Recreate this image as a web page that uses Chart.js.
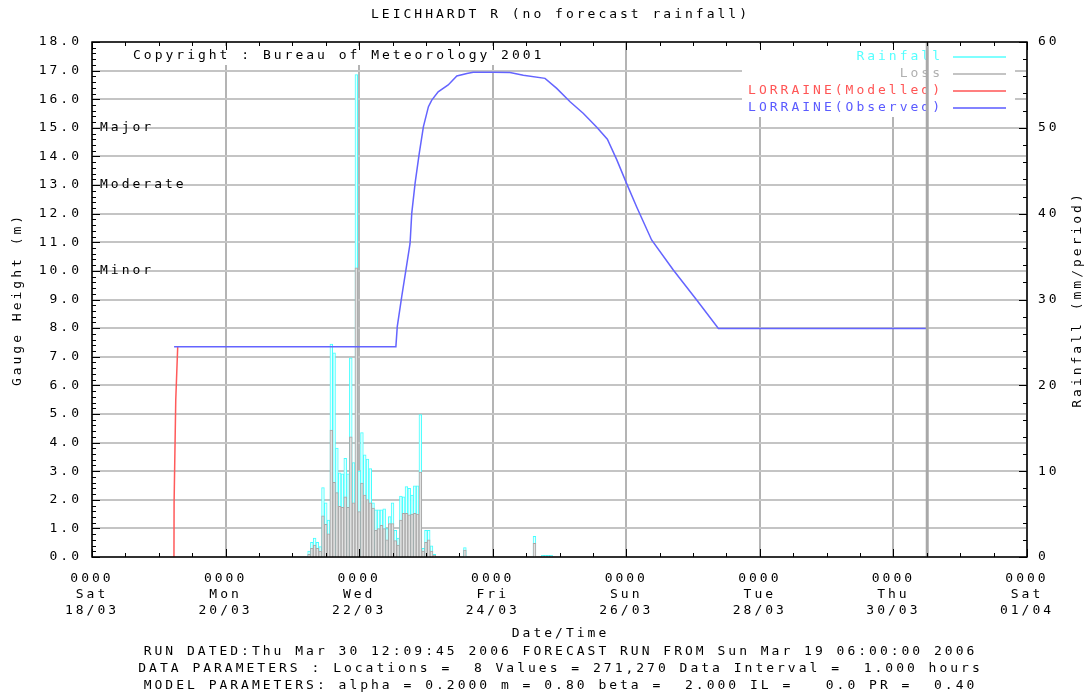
<!DOCTYPE html>
<html>
<head>
<meta charset="utf-8">
<script src="https://cdn.jsdelivr.net/npm/chart.js@4.4.0/dist/chart.umd.min.js"></script>
<style>
  body { margin: 0; background: #fff; }
  canvas { display: block; }
</style>
</head>
<body>
<canvas id="gauge" width="1086" height="697"></canvas>
<script>
// hours counted from Sat 18/03 0000
var dayNames = ['Sat', 'Mon', 'Wed', 'Fri', 'Sun', 'Tue', 'Thu', 'Sat'];
var dayDates = ['18/03', '20/03', '22/03', '24/03', '26/03', '28/03', '30/03', '01/04'];

// hourly rainfall and loss (mm/period), first bar at hour 78
var rainStart = 78;
var rainfall = [0.7, 1.7, 2.2, 1.7, 1.2, 8.1, 6.3, 4.3, 24.8, 23.8, 12.7, 9.8, 9.7, 11.5, 9.7, 23.2,
  11.0, 56.2, 10.0, 14.5, 11.9, 11.4, 10.3, 6.3, 5.5, 5.5, 5.5, 5.6, 3.3, 4.7, 6.3, 3.1,
  2.2, 7.1, 7.0, 8.2, 8.0, 7.2, 8.3, 8.3, 16.6, 1.0, 3.1, 3.1, 1.3, 0.3];
var loss = [0.3, 1.0, 1.4, 1.0, 0.7, 4.8, 3.8, 2.7, 14.8, 8.7, 7.5, 5.9, 5.8, 7.0, 5.8, 14.0,
  6.3, 33.7, 5.3, 8.6, 7.2, 6.7, 6.3, 5.7, 3.1, 3.3, 3.7, 3.3, 2.0, 3.9, 3.9, 1.9,
  1.4, 4.3, 5.1, 5.1, 4.9, 5.0, 5.1, 5.0, 9.9, 0.7, 1.7, 2.0, 0.7, 0.2];
// a few isolated later bars
var lateHours = [134, 159, 162, 163, 164, 165];
var lateRain = [1.1, 2.4, 0.2, 0.2, 0.2, 0.2];
var lateLoss = [0.8, 1.6, 0.1, 0.1, 0.1, 0.1];

// gauge heights (m)
var modHours = [29.45, 29.5, 30.1, 30.8];
var modLevel = [0, 1.9, 5.5, 7.35];
var obsHours = [29.5, 109.2, 109.7, 111.3, 112.8, 114.3, 114.9, 116.1, 117.6, 119.1, 120.9, 122.1,
  124.4, 128.0, 131.1, 134.7, 137.0, 144.2, 150.2, 155.0, 162.8, 167.0, 171.8, 176.6, 181.4,
  185.2, 188.6, 192.1, 195.7, 201.1, 208.9, 217.3, 225.1, 300.2];
var obsLevel = [7.35, 7.35, 8.05, 9.1, 10.03, 10.96, 12.01, 13.06, 14.11, 15.04, 15.74, 15.97,
  16.26, 16.5, 16.81, 16.9, 16.94, 16.94, 16.93, 16.84, 16.73, 16.38, 15.91, 15.5, 15.02,
  14.6, 13.88, 13.06, 12.24, 11.08, 10.03, 8.98, 7.99, 7.99];

var floodNames = ['Major', 'Moderate', 'Minor'];
var floodLevels = [15.0, 13.0, 10.0];
var nowHour = 300.15;

var footLines = [
  'Date/Time',
  'RUN DATED:Thu Mar 30 12:09:45 2006 FORECAST RUN FROM Sun Mar 19 06:00:00 2006',
  'DATA PARAMETERS : Locations =  8 Values = 271,270 Data Interval =  1.000 hours',
  'MODEL PARAMETERS: alpha = 0.2000 m = 0.80 beta =  2.000 IL =   0.0 PR =  0.40'
];

var FONT = '13px "DejaVu Sans Mono"';
var GAP = 3;

function hourly(vals) {
  var out = vals.map(function (v, i) { return { x: rainStart + i, y: v } });
  return out;
}
function pairs(xs, ys) {
  return xs.map(function (v, i) { return { x: v, y: ys[i] } });
}

var rainData = hourly(rainfall).concat(pairs(lateHours, lateRain));
var lossData = hourly(loss).concat(pairs(lateHours, lateLoss));

var legendItems = [
  { text: 'Rainfall', color: '#55ffff' },
  { text: 'Loss', color: '#b0b0b0' },
  { text: 'LORRAINE(Modelled)', color: '#ff5555' },
  { text: 'LORRAINE(Observed)', color: '#5a5aff' }
];

var spacing = {
  id: 'spacing',
  beforeDraw: function (chart) {
    var ctx = chart.ctx;
    ctx.letterSpacing = GAP + 'px';
    ctx.fillStyle = '#fff';
    ctx.fillRect(0, 0, chart.width, chart.height);
  }
};

// draw spaced text so that the visible glyphs end at xr
function rightText(ctx, t, xr, y) {
  var w = ctx.measureText(t).width - GAP;
  ctx.textAlign = 'left';
  ctx.fillText(t, xr - w, y);
}

var extras = {
  id: 'extras',
  afterDatasetsDraw: function (chart) {
    var ctx = chart.ctx, a = chart.chartArea;
    var xs = chart.scales.x, ys = chart.scales.y, ys1 = chart.scales.y1;
    ctx.save();
    ctx.letterSpacing = GAP + 'px';
    ctx.font = FONT;
    ctx.textBaseline = 'middle';

    // copyright and legend panels
    ctx.fillStyle = '#fff';
    ctx.fillRect(a.left + 36, a.top + 4, 424, 19);
    ctx.fillRect(a.right - 285, a.top + 2, 273, 73);
    ctx.fillStyle = '#000';
    ctx.textAlign = 'left';
    ctx.fillText('Copyright : Bureau of Meteorology 2001', a.left + 41, a.top + 14);

    legendItems.forEach(function (it, i) {
      var ly = a.top + 15 + i * 17;
      ctx.fillStyle = it.color;
      rightText(ctx, it.text, a.right - 87, ly);
      ctx.strokeStyle = it.color;
      ctx.lineWidth = 1.5;
      ctx.beginPath();
      ctx.moveTo(a.right - 74, ly);
      ctx.lineTo(a.right - 21, ly);
      ctx.stroke();
    });

    // current time marker
    var nx = xs.getPixelForValue(nowHour);
    ctx.strokeStyle = '#a8a8a8';
    ctx.lineWidth = 3;
    ctx.beginPath();
    ctx.moveTo(nx, a.top);
    ctx.lineTo(nx, a.bottom);
    ctx.stroke();

    // flood classes
    ctx.fillStyle = '#000';
    ctx.textAlign = 'left';
    floodNames.forEach(function (n, i) {
      ctx.fillText(n, a.left + 8, ys.getPixelForValue(floodLevels[i]));
    });

    // left tick labels
    ys.ticks.forEach(function (t) {
      rightText(ctx, t.value.toFixed(1), a.left - 13, ys.getPixelForValue(t.value));
    });

    // frame and inward ticks
    ctx.strokeStyle = '#000';
    ctx.lineWidth = 1;
    ctx.beginPath();
    var v, p, len;
    for (v = 0; v <= 90; v++) {
      p = Math.round(ys.getPixelForValue(v / 5)) + 0.5;
      len = v % 5 === 0 ? 8 : 4;
      ctx.moveTo(a.left, p); ctx.lineTo(a.left + len, p);
    }
    for (v = 0; v <= 60; v += 2) {
      p = Math.round(ys1.getPixelForValue(v)) + 0.5;
      len = v % 10 === 0 ? 8 : 4;
      ctx.moveTo(a.right, p); ctx.lineTo(a.right - len, p);
    }
    for (v = 0; v <= 336; v += 12) {
      p = Math.round(xs.getPixelForValue(v)) + 0.5;
      len = v % 48 === 0 ? 8 : 4;
      ctx.moveTo(p, a.top); ctx.lineTo(p, a.top + len);
      ctx.moveTo(p, a.bottom); ctx.lineTo(p, a.bottom - len);
    }
    ctx.stroke();
    ctx.lineWidth = 1.5;
    ctx.strokeRect(a.left, a.top, a.right - a.left, a.bottom - a.top);

    // titles
    ctx.textAlign = 'center';
    ctx.fillText('LEICHHARDT R (no forecast rainfall)', (a.left + a.right) / 2 + 1, 15);
    footLines.forEach(function (t, i) {
      ctx.fillText(t, (a.left + a.right) / 2 + 1, 634 + i * 17.3);
    });
    ctx.save();
    ctx.translate(18, (a.top + a.bottom) / 2);
    ctx.rotate(-Math.PI / 2);
    ctx.fillText('Gauge Height (m)', 0, 0);
    ctx.restore();
    ctx.save();
    ctx.translate(1078, (a.top + a.bottom) / 2);
    ctx.rotate(-Math.PI / 2);
    ctx.fillText('Rainfall (mm/period)', 0, 0);
    ctx.restore();

    ctx.restore();
  }
};

var tickFont = { family: 'DejaVu Sans Mono', size: 13, lineHeight: 1.25 };

var chart = new Chart(document.getElementById('gauge').getContext('2d'), {
  type: 'bar',
  data: {
    datasets: [
      {
        type: 'line',
        label: 'LORRAINE(Observed)',
        data: pairs(obsHours, obsLevel),
        yAxisID: 'y',
        borderColor: '#6464ff',
        borderWidth: 1.5,
        pointRadius: 0,
        fill: false,
        tension: 0,
        order: 0
      },
      {
        type: 'line',
        label: 'LORRAINE(Modelled)',
        data: pairs(modHours, modLevel),
        yAxisID: 'y',
        borderColor: '#ff5a5a',
        borderWidth: 1.5,
        pointRadius: 0,
        fill: false,
        tension: 0,
        order: 1
      },
      {
        label: 'Loss',
        data: lossData,
        yAxisID: 'y1',
        backgroundColor: 'rgba(232,232,232,0.9)',
        borderColor: '#a8a8a8',
        borderWidth: 1,
        barPercentage: 1,
        categoryPercentage: 1,
        grouped: false,
        order: 2
      },
      {
        label: 'Rainfall',
        data: rainData,
        yAxisID: 'y1',
        backgroundColor: 'rgba(255,255,255,0.85)',
        borderColor: '#44ffff',
        borderWidth: 1,
        barPercentage: 1,
        categoryPercentage: 1,
        grouped: false,
        order: 3
      }
    ]
  },
  options: {
    responsive: false,
    animation: false,
    layout: { padding: { top: 42, left: 0, right: 0, bottom: 0 } },
    plugins: {
      legend: { display: false },
      tooltip: { enabled: false },
      title: { display: false }
    },
    scales: {
      x: {
        type: 'linear',
        min: 0,
        max: 336,
        offset: false,
        border: { display: false },
        grid: { color: '#b4b4b4', lineWidth: 2, drawTicks: false, offset: false },
        ticks: {
          stepSize: 48,
          autoSkip: false,
          maxRotation: 0,
          padding: 13,
          color: '#000',
          font: tickFont,
          callback: function (value) {
            var i = Math.round(value / 48);
            return ['0000', dayNames[i], dayDates[i]];
          }
        },
        afterFit: function (s) { s.height = 140; }
      },
      y: {
        position: 'left',
        min: 0,
        max: 18,
        border: { display: false },
        grid: { color: '#c4c4c4', lineWidth: 2, drawTicks: false },
        ticks: { stepSize: 1, display: false },
        afterFit: function (s) { s.width = 92; }
      },
      y1: {
        position: 'right',
        min: 0,
        max: 60,
        border: { display: false },
        grid: { display: false, drawTicks: false },
        ticks: {
          stepSize: 10,
          padding: 11,
          color: '#000',
          font: tickFont
        },
        afterFit: function (s) { s.width = 59; }
      }
    }
  },
  plugins: [spacing, extras]
});
</script>
</body>
</html>
